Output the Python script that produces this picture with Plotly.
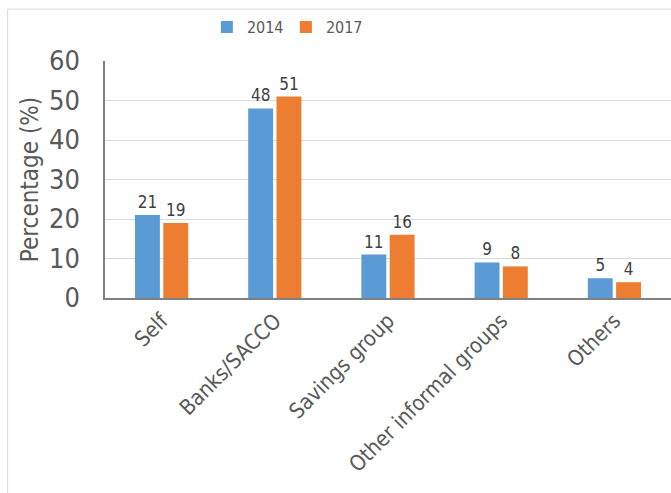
import plotly.graph_objects as go

categories = ["Self", "Banks/SACCO", "Savings group", "Other informal groups", "Others"]
values_2014 = [21, 48, 11, 9, 5]
values_2017 = [19, 51, 16, 8, 4]
y_ticks = [0, 10, 20, 30, 40, 50, 60]

FONT = "DejaVu Sans Condensed, Liberation Sans Narrow, Arial Narrow, sans-serif"
TEXT = "#595959"

fig = go.Figure()
for name, vals, color in [("2014", values_2014, "#5B9BD5"), ("2017", values_2017, "#ED7D31")]:
    fig.add_trace(go.Bar(
        name=name, x=categories, y=vals,
        marker=dict(color=color, line=dict(width=0)),
        text=[str(v) for v in vals], textposition="outside",
        textfont=dict(family=FONT, size=17, color="#404040"),
        cliponaxis=False,
    ))

fig.update_layout(
    width=671, height=493,
    margin=dict(l=105, r=0, t=61, b=195),
    paper_bgcolor="white", plot_bgcolor="white",
    font=dict(family=FONT, color=TEXT),
    barmode="group", bargap=0.5, bargroupgap=0.12,
    showlegend=True,
    legend=dict(orientation="h", x=0.18, xanchor="left", y=1.143, yanchor="middle",
                font=dict(family=FONT, size=16, color=TEXT),
                entrywidth=34, entrywidthmode="pixels", itemwidth=30,
                tracegroupgap=0, itemsizing="constant"),
    xaxis=dict(
        tickangle=-45, tickfont=dict(family=FONT, size=21.5, color=TEXT),
        showline=True, linecolor="#808080", linewidth=1.5,
        showgrid=False, ticks="", automargin=False,
    ),
    yaxis=dict(
        range=[0, 60], tickvals=y_ticks,
        tickfont=dict(family=FONT, size=27, color=TEXT),
        showline=True, linecolor="#808080", linewidth=1.5,
        showgrid=True, gridcolor="#D9D9D9", gridwidth=1.2,
        zeroline=False, ticks="", ticklabelstandoff=18, automargin=False,
        title=dict(text="Percentage (%)", font=dict(family=FONT, size=24, color=TEXT), standoff=4),
    ),
    shapes=[dict(type="rect", xref="paper", yref="paper",
                 x0=-0.172, x1=1.02, y0=-0.9, y1=1.219,
                 line=dict(color="#D9D9D9", width=1), fillcolor="rgba(0,0,0,0)", layer="below")],
)

fig.write_html("out.html")
